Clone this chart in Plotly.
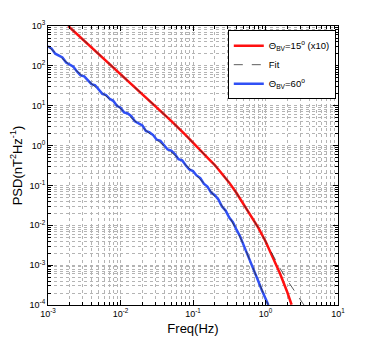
import plotly.graph_objects as go

# --- data (Hz, nT^2/Hz) ---
# Theta_BV = 15 deg (already x10)
red_f = [0.0019, 0.00316, 0.005, 0.01, 0.02, 0.0316, 0.05, 0.0794, 0.126, 0.158, 0.2, 0.251,
         0.316, 0.398, 0.5, 0.631, 0.794, 1.0, 1.26, 1.585, 2.0, 2.29]
red_p = [1000, 427, 200, 63.1, 20, 9.12, 4.17, 1.82, 0.794, 0.501, 0.324, 0.195,
         0.1175, 0.0646, 0.0339, 0.0178, 0.00871, 0.00398, 0.00162, 0.000617, 0.000209, 0.000102]

# fit for the 15 deg curve
fit_red_f = [0.0019, 0.00316, 0.005, 0.01, 0.02, 0.0316, 0.05, 0.0794, 0.126, 0.158, 0.2, 0.251,
             0.316, 0.398, 0.5, 0.631, 0.794, 1.0, 1.26, 1.585, 2.0, 2.51, 3.16, 3.63]
fit_red_p = [1000, 427, 200, 63.1, 20, 9.12, 4.17, 1.82, 0.794, 0.501, 0.324, 0.195,
             0.1175, 0.0646, 0.0339, 0.0178, 0.00871, 0.00398, 0.00174, 0.000832, 0.000417,
             0.000219, 0.00012, 0.0000832]

# Theta_BV = 60 deg
blue_f = [0.001, 0.00112, 0.00126, 0.00141, 0.00158, 0.00178, 0.002, 0.00224, 0.00251, 0.00282,
          0.00316, 0.00355, 0.00398, 0.00447, 0.00501, 0.00562, 0.00631, 0.00708, 0.00794, 0.00891,
          0.01, 0.0112, 0.0126, 0.0141, 0.0158, 0.0178, 0.02, 0.0224, 0.0251, 0.0282,
          0.0316, 0.0355, 0.0398, 0.0447, 0.0501, 0.0562, 0.0631, 0.0708, 0.0794, 0.0891,
          0.1, 0.112, 0.126, 0.141, 0.158, 0.178, 0.2, 0.224, 0.251, 0.282,
          0.316, 0.355, 0.398, 0.447, 0.501, 0.562, 0.631, 0.708, 0.794, 0.891,
          1.0, 1.096]
blue_p = [309, 271, 202, 185, 162, 121, 106, 95.1, 72.4, 57.9,
          54.3, 44.5, 34.7, 32.6, 24.8, 19.9, 18.6, 14.9, 13.3, 9.95,
          8.91, 6.81, 6.38, 5.47, 4.07, 3.57, 3.20, 2.33, 2.14, 1.83,
          1.40, 1.31, 1.00, 0.798, 0.750, 0.612, 0.457, 0.427, 0.320, 0.251,
          0.229, 0.178, 0.153, 0.110, 0.0933, 0.0661, 0.0569, 0.0447, 0.0295, 0.0234,
          0.01567, 0.0120, 0.00776, 0.00525, 0.00313, 0.00191, 0.00110, 0.000676, 0.000398, 0.000234,
          0.000145, 0.0001]

# fit for the 60 deg curve
fit_blue_f = [0.001, 0.00316, 0.01, 0.0316, 0.0631, 0.1, 0.158, 0.251, 0.316, 0.398,
              0.501, 0.631, 0.794, 1.0, 1.12]
fit_blue_p = [309, 51.9, 8.71, 1.46, 0.479, 0.219, 0.0912, 0.0309, 0.0164, 0.00776,
              0.0032, 0.00112, 0.000398, 0.000145, 0.0000891]

x_ticks = [0.001, 0.01, 0.1, 1, 10]
x_labels = ["10<sup>-3</sup>", "10<sup>-2</sup>", "10<sup>-1</sup>", "10<sup>0</sup>", "10<sup>1</sup>"]
y_ticks = [1e-4, 1e-3, 1e-2, 1e-1, 1, 10, 100, 1000]
y_labels = ["10<sup>-4</sup>", "10<sup>-3</sup>", "10<sup>-2</sup>", "10<sup>-1</sup>",
            "10<sup>0</sup>", "10<sup>1</sup>", "10<sup>2</sup>", "10<sup>3</sup>"]

# minor (2..9) grid positions for each decade
def minor_vals(decades):
    return [m * d for d in decades for m in range(2, 10)]

RED = "#ff1010"
BLUE = "#3050f5"
FIT = "#333333"

fig = go.Figure()
fig.add_trace(go.Scatter(x=red_f, y=red_p, mode="lines", line=dict(color=RED, width=2.5),
                         name="\u0398<sub>BV</sub>=15<sup>o</sup> (x10)", legendrank=1))
fig.add_trace(go.Scatter(x=blue_f, y=blue_p, mode="lines", line=dict(color=BLUE, width=2.5),
                         name="\u0398<sub>BV</sub>=60<sup>o</sup>", legendrank=3))
fig.add_trace(go.Scatter(x=fit_red_f, y=fit_red_p, mode="lines",
                         line=dict(color=FIT, width=0.8, dash="dash"), name="Fit", legendrank=2))
fig.add_trace(go.Scatter(x=fit_blue_f, y=fit_blue_p, mode="lines",
                         line=dict(color=FIT, width=0.8, dash="dash"), showlegend=False))

grid = "#b4b4b4"
axis_common = dict(
    type="log", showline=True, linecolor="black", linewidth=1, mirror="allticks",
    ticks="inside", ticklen=5, tickcolor="black",
    showgrid=True, gridcolor=grid, griddash="dot", gridwidth=1,
    tickfont=dict(size=9, color="black"), zeroline=False, automargin=False,
)

fig.update_xaxes(range=[-3, 1], tickvals=x_ticks, ticktext=x_labels,
                 minor=dict(tickmode="array", tickvals=minor_vals(x_ticks[:-1]),
                            ticks="inside", ticklen=3, tickcolor="black", showgrid=True,
                            gridcolor=grid, griddash="dot", gridwidth=1),
                 title=dict(text="Freq(Hz)", font=dict(size=13, color="black"), standoff=6),
                 **axis_common)
fig.update_yaxes(range=[-4, 3], tickvals=y_ticks, ticktext=y_labels,
                 minor=dict(tickmode="array", tickvals=minor_vals(y_ticks[:-1]),
                            ticks="inside", ticklen=3, tickcolor="black", showgrid=True,
                            gridcolor=grid, griddash="dot", gridwidth=1),
                 title=dict(text="PSD(nT<sup>2</sup>Hz<sup>-1</sup>)", font=dict(size=13, color="black"),
                            standoff=4),
                 **axis_common)

# the page body adds an 8px offset, so the margins are shifted to compensate
fig.update_layout(
    width=374, height=343,
    margin=dict(l=40, r=44, t=18, b=46),
    paper_bgcolor="white", plot_bgcolor="white",
    font=dict(family="Liberation Sans, Arial, sans-serif", color="black"),
    legend=dict(x=0.62, y=0.985, xanchor="left", yanchor="top",
                bgcolor="white", bordercolor="black", borderwidth=1,
                font=dict(size=9.5), tracegroupgap=0, itemwidth=30),
)

fig.write_html("out.html")
